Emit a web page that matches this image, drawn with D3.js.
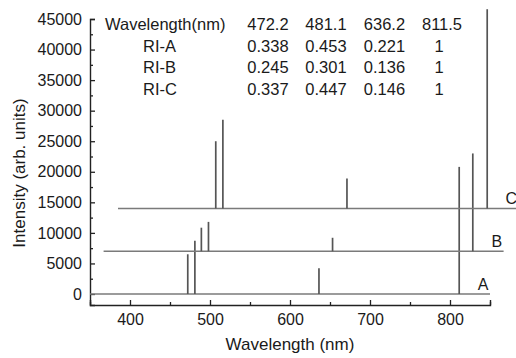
<!DOCTYPE html>
<html>
<head>
<meta charset="utf-8">
<script src="https://cdn.jsdelivr.net/npm/d3@7/dist/d3.min.js"></script>
<style>
  html, body { margin: 0; padding: 0; background: #fff; }
  svg { display: block; }
  text { font-family: "Liberation Sans", Arial, Helvetica, sans-serif; fill: #1a1a1a; }
</style>
</head>
<body>
<svg id="chart" width="516" height="358"></svg>
<script>
// ---- data ----
const wavelengths = [472.2, 481.1, 636.2, 811.5];
const seriesNames = ["A", "B", "C"];
const intensityA = [6500, 8700, 4200, 20800];
const intensityB = [3850, 4800, 2200, 16000];
const intensityC = [11000, 14500, 4900, 32600];
const baselineOffsets = [0, 7000, 14000];
const wavelengthShifts = [0, 17, 35];
const spectrumRange = [350, 850];
const xTicks = [400, 500, 600, 700, 800];
const xMinorTicks = [350, 450, 550, 650, 750, 850];
const yTicks = [0, 5000, 10000, 15000, 20000, 25000, 30000, 35000, 40000, 45000];
const yMinorTicks = [2500, 7500, 12500, 17500, 22500, 27500, 32500, 37500, 42500];
const tableHeader = ["Wavelength(nm)", "472.2", "481.1", "636.2", "811.5"];
const tableRowLabels = ["RI-A", "RI-B", "RI-C"];
const riA = ["0.338", "0.453", "0.221", "1"];
const riB = ["0.245", "0.301", "0.136", "1"];
const riC = ["0.337", "0.447", "0.146", "1"];
const xTitle = "Wavelength (nm)";
const yTitle = "Intensity (arb. units)";

const intensities = [intensityA, intensityB, intensityC];
const riRows = [riA, riB, riC];

// ---- layout ----
const svg = d3.select("#chart");
const x = d3.scaleLinear().domain([350, 850]).range([90, 490]);
const y = d3.scaleLinear().domain([-1800, 45000]).range([305, 19]);

// axes
const gx = svg.append("g").attr("transform", `translate(0,${y.range()[0]})`)
  .call(d3.axisBottom(x).tickValues(xTicks).tickSize(-5).tickPadding(9).tickFormat(d3.format("d")));
const gxm = svg.append("g").attr("transform", `translate(0,${y.range()[0]})`)
  .call(d3.axisBottom(x).tickValues(xMinorTicks).tickSize(-3).tickFormat(""));
const gy = svg.append("g").attr("transform", `translate(${x.range()[0]},0)`)
  .call(d3.axisLeft(y).tickValues(yTicks).tickSize(-5).tickPadding(8).tickFormat(d3.format("d")));
const gym = svg.append("g").attr("transform", `translate(${x.range()[0]},0)`)
  .call(d3.axisLeft(y).tickValues(yMinorTicks).tickSize(-3).tickFormat(""));
[gxm, gym].forEach(g => g.select(".domain").remove());
[gx, gy, gxm, gym].forEach(g => {
  g.selectAll("path.domain").attr("stroke", "#222").attr("stroke-width", 1.4);
  g.selectAll(".tick line").attr("stroke", "#222").attr("stroke-width", 1.3);
  g.selectAll(".tick text").style("font-size", "16px").attr("fill", "#1a1a1a")
    .style("font-family", "'Liberation Sans', Arial, sans-serif");
});

// axis titles
svg.append("text").attr("x", (x.range()[0] + x.range()[1]) / 2).attr("y", 350)
  .attr("text-anchor", "middle").style("font-size", "17px").text(xTitle);
svg.append("text").attr("transform", `translate(25,${173}) rotate(-90)`)
  .attr("text-anchor", "middle").style("font-size", "17px").text(yTitle);

// spectra
seriesNames.forEach((name, i) => {
  const dx = wavelengthShifts[i], dy = baselineOffsets[i];
  const g = svg.append("g");
  g.append("line")
    .attr("x1", x(spectrumRange[0] + dx)).attr("x2", x(spectrumRange[1] + dx))
    .attr("y1", y(dy)).attr("y2", y(dy))
    .attr("stroke", "#7a7a7a").attr("stroke-width", 1.4);
  g.selectAll("line.peak").data(wavelengths.map((w, k) => ({ w: w + dx, v: intensities[i][k] })))
    .join("line").attr("class", "peak")
    .attr("x1", d => x(d.w)).attr("x2", d => x(d.w))
    .attr("y1", y(dy)).attr("y2", d => y(dy + d.v))
    .attr("stroke", "#555").attr("stroke-width", 1.7);
  g.append("text").attr("x", x(841.5 + dx)).attr("y", y(dy) - 4)
    .attr("text-anchor", "middle").style("font-size", "16px").text(name);
});

// table
const colX = [268, 326, 384.5, 442];
const rowY = [30, 51.7, 73.2, 94.5];
const tbl = svg.append("g").style("font-size", "16.5px");
tbl.append("text").attr("x", 105).attr("y", rowY[0]).text(tableHeader[0]);
tableHeader.slice(1).forEach((t, c) => {
  tbl.append("text").attr("x", colX[c]).attr("y", rowY[0]).attr("text-anchor", "middle").text(t);
});
tableRowLabels.forEach((lab, r) => {
  tbl.append("text").attr("x", 143).attr("y", rowY[r + 1]).text(lab);
  riRows[r].forEach((t, c) => {
    tbl.append("text").attr("x", colX[c] - (c === 3 ? 3 : 0)).attr("y", rowY[r + 1])
      .attr("text-anchor", "middle").text(t);
  });
});
</script>
</body>
</html>
